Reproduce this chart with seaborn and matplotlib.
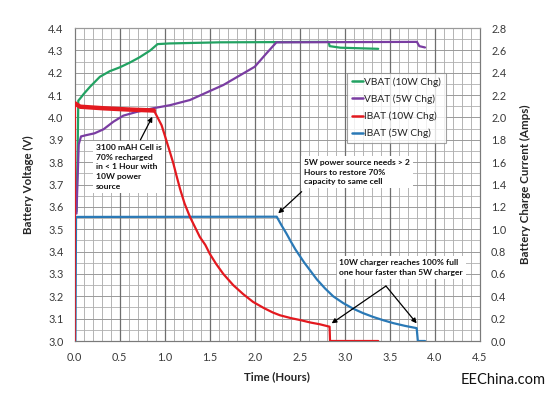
import numpy as np
import pandas as pd
import matplotlib
matplotlib.use("Agg")
import matplotlib.pyplot as plt
from matplotlib.lines import Line2D
import seaborn as sns

# ---------------- data ----------------
t_v10 = [0.02, 0.033, 0.04, 0.077, 0.10, 0.17, 0.28, 0.39, 0.50, 0.61, 0.72, 0.84,
         0.92, 1.05, 1.61, 2.25, 2.82, 2.83, 2.95, 3.37]
v_v10 = [3.58, 3.86, 4.075, 4.093, 4.105, 4.137, 4.182, 4.207, 4.224, 4.245, 4.269, 4.30,
         4.328, 4.331, 4.336, 4.337, 4.338, 4.319, 4.312, 4.307]

t_v5 = [0.02, 0.03, 0.045, 0.07, 0.13, 0.22, 0.32, 0.43, 0.54, 0.69, 0.87, 1.06, 1.28,
        1.50, 1.65, 2.00, 2.13, 2.24, 3.80, 3.826, 3.89]
v_v5 = [3.57, 3.70, 3.88, 3.915, 3.921, 3.929, 3.947, 3.981, 4.008, 4.025, 4.041, 4.055,
        4.078, 4.118, 4.145, 4.227, 4.287, 4.336, 4.338, 4.319, 4.313]

t_i10 = [0.0, 0.003, 0.06, 0.32, 0.62, 0.88, 0.92, 0.965, 1.0, 1.05, 1.095, 1.13, 1.17,
         1.22, 1.28, 1.335, 1.39, 1.45, 1.50, 1.57, 1.65, 1.76, 1.87, 1.98, 2.10, 2.20,
         2.28, 2.40, 2.50, 2.62, 2.72, 2.83, 2.835, 3.37]
i_i10 = [0.0, 2.126, 2.096, 2.082, 2.07, 2.062, 2.0, 1.93, 1.84, 1.71, 1.59, 1.48, 1.36,
         1.23, 1.11, 1.02, 0.93, 0.86, 0.78, 0.69, 0.60, 0.50, 0.42, 0.35, 0.295, 0.255,
         0.23, 0.205, 0.188, 0.165, 0.15, 0.128, 0.0, 0.0]

t_i5 = [0.0, 0.008, 0.015, 2.243, 2.30, 2.35, 2.40, 2.45, 2.50, 2.55, 2.62, 2.69, 2.78,
        2.87, 2.98, 3.09, 3.20, 3.315, 3.43, 3.537, 3.67, 3.797, 3.81, 3.89]
i_i5 = [0.0, 0.0, 1.11, 1.112, 1.03, 0.963, 0.89, 0.82, 0.76, 0.70, 0.625, 0.55, 0.47,
        0.40, 0.34, 0.29, 0.25, 0.215, 0.185, 0.16, 0.135, 0.115, 0.0, 0.0]

labels = ["VBAT (10W Chg)", "VBAT (5W Chg)", "IBAT (10W Chg)", "IBAT (5W Chg)"]
colors = ["#22a262", "#7a3da2", "#e3191f", "#2a79b6"]

x_ticks = [0.0, 0.5, 1.0, 1.5, 2.0, 2.5, 3.0, 3.5, 4.0, 4.5]
yl_ticks = [3.0, 3.1, 3.2, 3.3, 3.4, 3.5, 3.6, 3.7, 3.8, 3.9, 4.0, 4.1, 4.2, 4.3, 4.4]
yr_ticks = [0.0, 0.2, 0.4, 0.6, 0.8, 1.0, 1.2, 1.4, 1.6, 1.8, 2.0, 2.2, 2.4, 2.6, 2.8]

# ---------------- style ----------------
sns.set_style("white")
plt.rcParams["font.family"] = ["Lato", "DejaVu Sans"]

fig = plt.figure(figsize=(5.5, 3.93), dpi=100)
ax = fig.add_axes([0.1358, 0.1323, 0.7369, 0.7964])
ax2 = ax.twinx()

df_v10 = pd.DataFrame({"t": t_v10, "v": v_v10})
df_v5 = pd.DataFrame({"t": t_v5, "v": v_v5})
df_i10 = pd.DataFrame({"t": t_i10, "i": i_i10})
df_i5 = pd.DataFrame({"t": t_i5, "i": i_i5})

lw = 1.6
sns.lineplot(data=df_v10, x="t", y="v", ax=ax, sort=False, estimator=None,
             color=colors[0], lw=lw, zorder=3)
sns.lineplot(data=df_v5, x="t", y="v", ax=ax, sort=False, estimator=None,
             color=colors[1], lw=lw, zorder=3)
sns.lineplot(data=df_i5, x="t", y="i", ax=ax2, sort=False, estimator=None,
             color=colors[3], lw=lw, zorder=3)
sns.lineplot(data=df_i10, x="t", y="i", ax=ax2, sort=False, estimator=None,
             color=colors[2], lw=lw, zorder=4)
# thicker noisy band of the 10W constant-current phase
sns.lineplot(data=df_i10.iloc[1:6], x="t", y="i", ax=ax2, sort=False, estimator=None,
             color=colors[2], lw=3.2, zorder=4)

ax.set_xlim(0, 4.5)
ax.set_ylim(3.0, 4.4)
ax2.set_ylim(0, 2.8)

ax.set_xticks(x_ticks)
ax.set_xticklabels([f"{v:.1f}" for v in x_ticks])
ax.set_yticks(yl_ticks)
ax.set_yticklabels([f"{v:.1f}" for v in yl_ticks])
ax2.set_yticks(yr_ticks)
ax2.set_yticklabels([f"{v:.1f}" for v in yr_ticks])

# grid lines drawn explicitly (minor 0.1 h / 0.05 V, major 0.5 h / 0.1 V)
ax.grid(False)
ax2.grid(False)
for k in range(1, 45):
    xv = k * 0.1
    if k % 5 == 0:
        ax.axvline(xv, color="#6e6e6e", lw=0.9, zorder=1.3)
    else:
        ax.axvline(xv, color="#a8a8a8", lw=0.6, zorder=1.1)
for k in range(1, 28):
    yv = 3.0 + k * 0.05
    if k % 2 == 0:
        ax.axhline(yv, color="#9a9a9a", lw=0.7, zorder=1.2)
    else:
        ax.axhline(yv, color="#b0b0b0", lw=0.6, zorder=1.1)

tick_color = "#3a3a3a"
ax.tick_params(axis="both", which="both", length=0, labelsize=7.8, colors=tick_color)
ax.tick_params(axis="x", pad=8)
ax.tick_params(axis="y", pad=8)
ax2.tick_params(axis="y", which="both", length=0, labelsize=7.8, colors=tick_color, pad=8)

for a in (ax, ax2):
    for s in a.spines.values():
        s.set_color("#7a7a7a")
        s.set_linewidth(0.8)
    a.spines["top"].set_color("#9a9a9a")

ax.set_xlabel("Time (Hours)", fontsize=8.3, fontweight="bold", labelpad=6)
ax.set_ylabel("Battery Voltage (V)", fontsize=8.3, fontweight="bold", labelpad=10)
ax2.set_ylabel("Battery Charge Current (Amps)", fontsize=8.3, fontweight="bold",
               labelpad=10)

# legend
for a in (ax, ax2):
    lg = a.get_legend()
    if lg is not None:
        lg.remove()
handles = [Line2D([], [], color=c, lw=1.8) for c in colors]
leg = ax2.legend(handles, labels, loc="upper left", bbox_to_anchor=(0.673, 0.857),
                 fontsize=7.3, frameon=True, fancybox=False, handlelength=1.1,
                 handletextpad=0.1, labelspacing=0.75, borderpad=0.45,
                 borderaxespad=0)
leg.get_frame().set_edgecolor("#8a8a8a")
leg.get_frame().set_linewidth(0.8)
leg.set_zorder(10)
for txt in leg.get_texts():
    txt.set_color("#222222")

# annotations (in current-axis coordinates: I = 2*(V-3))
box = dict(boxstyle="square,pad=0.35", fc="white", ec="none")
arrow = dict(arrowstyle="-|>", color="black", lw=0.9, mutation_scale=7,
             shrinkA=0, shrinkB=0)
ann_font = dict(fontsize=6.1, fontweight="bold", color="#111111", linespacing=1.45)

ax2.text(0.236, 1.762, "3100 mAH Cell is\n70% recharged\nin < 1 Hour with\n10W power\nsource",
         ha="left", va="top", bbox=box, zorder=6, **ann_font)
ax2.annotate("", xy=(0.862, 2.006), xytext=(0.73, 1.80), arrowprops=arrow, zorder=7)

ax2.text(2.55, 1.628, "5W power source needs > 2\nHours to restore 70%\ncapacity to same cell",
         ha="left", va="top", bbox=box, zorder=6, **ann_font)
ax2.annotate("", xy=(2.26, 1.142), xytext=(2.52, 1.336), arrowprops=arrow, zorder=7)

ax2.text(2.94, 0.734, "10W charger reaches 100% full\none hour faster than 5W charger",
         ha="left", va="top", bbox=box, zorder=6, **ann_font)
ax2.annotate("", xy=(2.853, 0.158), xytext=(3.456, 0.492), arrowprops=arrow, zorder=7)
ax2.annotate("", xy=(3.797, 0.158), xytext=(3.456, 0.492), arrowprops=arrow, zorder=7)

fig.text(0.992, 0.032, "EEChina.com", ha="right", va="center", fontsize=10.5,
         color="#111111", family=["Lato", "DejaVu Sans"])

fig.savefig("out.png", dpi=100, facecolor="white")
